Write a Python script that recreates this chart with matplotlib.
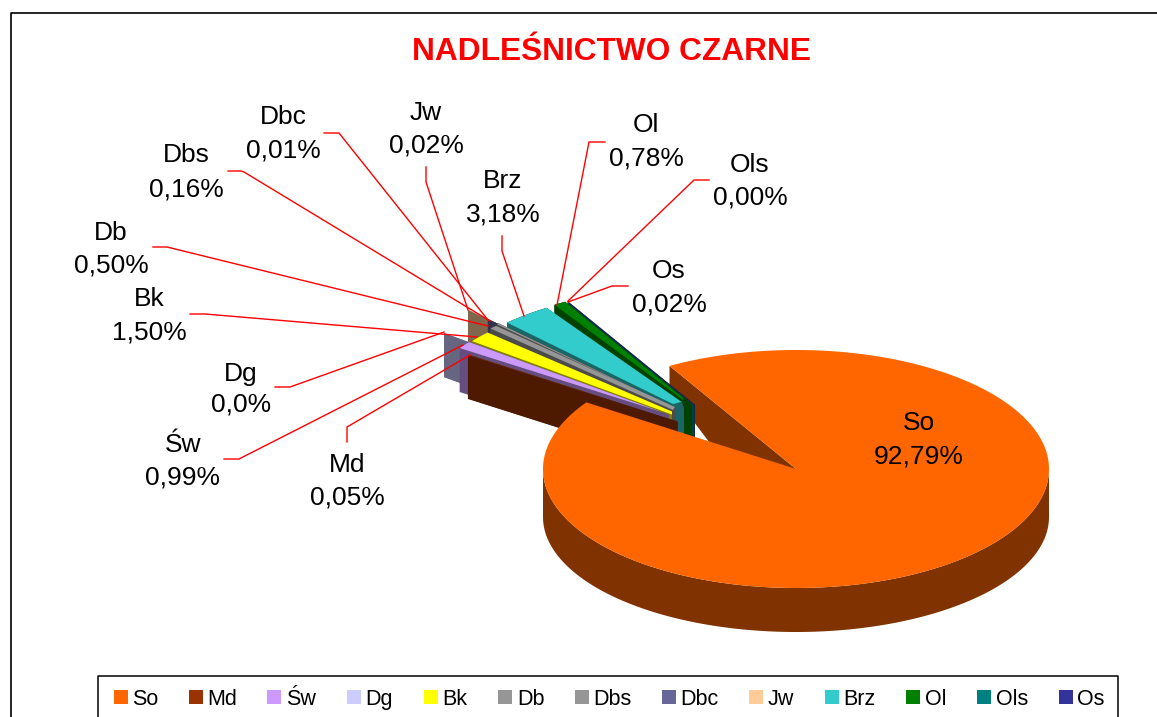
import numpy as np
import matplotlib
matplotlib.use('Agg')
import matplotlib.pyplot as plt
from matplotlib.patches import Polygon, Rectangle

plt.rcParams['font.family'] = ['Liberation Sans', 'DejaVu Sans']

# Chart data
species = ['So', 'Md', 'Św', 'Dg', 'Bk', 'Db', 'Dbs', 'Dbc', 'Jw', 'Brz', 'Ol', 'Ols', 'Os']
shares = [92.79, 0.05, 0.99, 0.0, 1.50, 0.50, 0.16, 0.01, 0.02, 3.18, 0.78, 0.00, 0.02]
share_labels = ['92,79%', '0,05%', '0,99%', '0,0%', '1,50%', '0,50%', '0,16%', '0,01%',
                '0,02%', '3,18%', '0,78%', '0,00%', '0,02%']
colors = ['#FF6600', '#993300', '#CC99FF', '#CCCCFF', '#FFFF00', '#969696', '#969696',
          '#666699', '#FFCC99', '#33CCCC', '#008000', '#008080', '#333399']

# Pie geometry in pixels
A = 253
B = 119
CX, CY = 796, 469
FAN_DEPTH = 44
START = -30.0

# Tip of each slice after the explosion (So stays in place)
tips = [(CX, CY), (677.6, 421.6), (669, 415), (644, 406), (672, 414), (675, 410), (676, 408.5),
        (665, 404), (645, 395), (684, 407.8), (691.8, 404.8), (694.3, 405.5), (695, 405)]
# The top face stops short of the tip: offsets of its lower and upper inner corner
blunt_low = [None, (0, 0), (-7, -3), (0, 0), (0, 0.5), (-2, 0), (0, 0), (0, 0), (0, 0),
             (-11, -3.8), (-8.8, -4.8), (0, 0), (0, 0)]
blunt_up = [None, (0, 0), (-7, -3), (0, 0), (0, -2.5), (0, -3), (0, 0), (0, 0), (0, 0),
            (-2.3, -5.8), (-8.8, -6.8), (0, 0), (0, 0)]

# Label positions: centre x, first line y, second line y
label_pos = [(919, 423.5, 456.5), (347, 465.5, 497.5), (183, 444.5, 477.5), (241, 373.5, 404.5),
             (149, 298.5, 332.5), (111, 232.5, 265.5), (186, 155.5, 189.5), (283, 117.5, 150.5),
             (426, 112.5, 145.5), (503, 181.5, 214.5), (646, 124.5, 158.5), (750, 164.5, 197.5),
             (669, 271.5, 304.5)]

# Red leader lines, one polyline per label
leaders = [None,
           [(347, 442), (347, 427), (470, 355)],
           [(224, 459), (239, 459), (463, 345)],
           [(275, 387), (290, 387), (444, 332)],
           [(190, 314), (205, 314), (477, 337)],
           [(153, 247), (167, 247), (488, 326)],
           [(228, 171), (241, 171), (244, 172), (490, 321)],
           [(324, 133), (339, 133), (488, 320)],
           [(426, 167), (426, 182), (468, 310)],
           [(502, 236), (502, 251), (524, 316)],
           [(605, 142), (589, 142), (557, 305)],
           [(709, 180), (694, 180), (568, 301)],
           [(628, 286), (612, 286), (568, 302)]]

legend_sq = [114, 189, 267, 347, 424, 498, 575, 662, 749, 825, 906, 977, 1059]
legend_tx = [132, 207, 286, 365, 442, 517, 593, 680.5, 767.5, 843.5, 925, 996, 1077]


def darker(c, f=0.5):
    return tuple(v * f for v in matplotlib.colors.to_rgb(c))


def pt(r, ang, cx, cy, b=B):
    t = np.radians(ang)
    return cx + r * A * np.sin(t), cy - r * b * np.cos(t)


def arc(r, a0, a1, cx, cy, b=B):
    return [pt(r, a, cx, cy, b) for a in np.linspace(a0, a1, max(2, int(abs(a1 - a0)) * 2 + 2))]


def drop(points, d):
    return [(x, y + d) for x, y in points][::-1]


fig = plt.figure(figsize=(11.57, 7.17), dpi=100)
ax = fig.add_axes([0, 0, 1, 1])
ax.set_xlim(0, 1157)
ax.set_ylim(717, 0)
ax.axis('off')

# Chart frame
ax.plot([10.5, 10.5, 1157], [717, 12.5, 12.5], color='black', lw=1.2, zorder=1)

# Wedge angles, clockwise from north
angles = START + np.cumsum([0] + shares) / sum(shares) * 360.0
so_end = angles[1]

# Inner wall of So, seen through the gap
corner = pt(1, START, CX, CY)
ax.add_patch(Polygon([corner, (CX, CY), (CX, CY + 87), (corner[0], corner[1] + 24)],
                     facecolor=darker(colors[0]), edgecolor='none', zorder=2))

# Exploded slices from back to front
z = 3
for i in range(len(species) - 1, 0, -1):
    a0 = angles[i] - 360
    a1 = angles[i + 1] - 360
    c = colors[i]
    tip = tips[i]
    out = arc(1, a0, a1, tip[0], tip[1])
    in0 = (tip[0] + blunt_low[i][0], tip[1] + blunt_low[i][1])
    in1 = (tip[0] + blunt_up[i][0], tip[1] + blunt_up[i][1])
    dark = darker(c)
    # dark body: silhouette of the wedge plus its walls
    ax.add_patch(Polygon(out + [tip], facecolor=dark, edgecolor='none', zorder=z))
    for wall in ([out[0], tip], [out[-1], tip], out, [in0, in1, tip]):
        ax.add_patch(Polygon(wall + drop(wall, FAN_DEPTH), facecolor=dark, edgecolor='none', zorder=z))
    # top face
    ax.add_patch(Polygon(out + [in1, in0], facecolor=c, edgecolor='none', zorder=z + 0.5))
    z += 1

# So: outer wall and top face in front of everything
upper = arc(1, 90, 270, CX, CY)
lower = arc(1, 270, 90, CX, CY + 48, b=115)
ax.add_patch(Polygon(upper + lower, facecolor=darker(colors[0]), edgecolor='none', zorder=20))
ax.add_patch(Polygon([(CX, CY)] + arc(1, START, so_end, CX, CY), facecolor=colors[0],
                     edgecolor='none', zorder=21))

# Leader lines
for line in leaders:
    if line:
        xs, ys = zip(*line)
        ax.plot(xs, ys, color='#FF0000', lw=1.0, zorder=22, solid_joinstyle='miter')

# Data labels
for name, txt, (x, y1, y2) in zip(species, share_labels, label_pos):
    ax.text(x, y1, name, fontsize=19, ha='center', va='center', color='black', zorder=23)
    ax.text(x, y2, txt, fontsize=19, ha='center', va='center', color='black', zorder=23)

# Title
ax.text(611, 52, 'NADLEŚNICTWO CZARNE', fontsize=22.8, fontweight='bold', color='#FF0000',
        ha='center', va='center', zorder=23)

# Legend box runs off the bottom of the image
ax.plot([97.5, 97.5, 1117.5, 1117.5], [717, 675.5, 675.5, 717], color='black', lw=1.1, zorder=24)
for name, c, sq, tx in zip(species, colors, legend_sq, legend_tx):
    ax.add_patch(Rectangle((sq, 690), 14, 14, facecolor=c, edgecolor='none', zorder=24))
    ax.text(tx, 697, name, fontsize=15.5, ha='left', va='center_baseline', color='black', zorder=24)

fig.savefig('out.png', dpi=100)
